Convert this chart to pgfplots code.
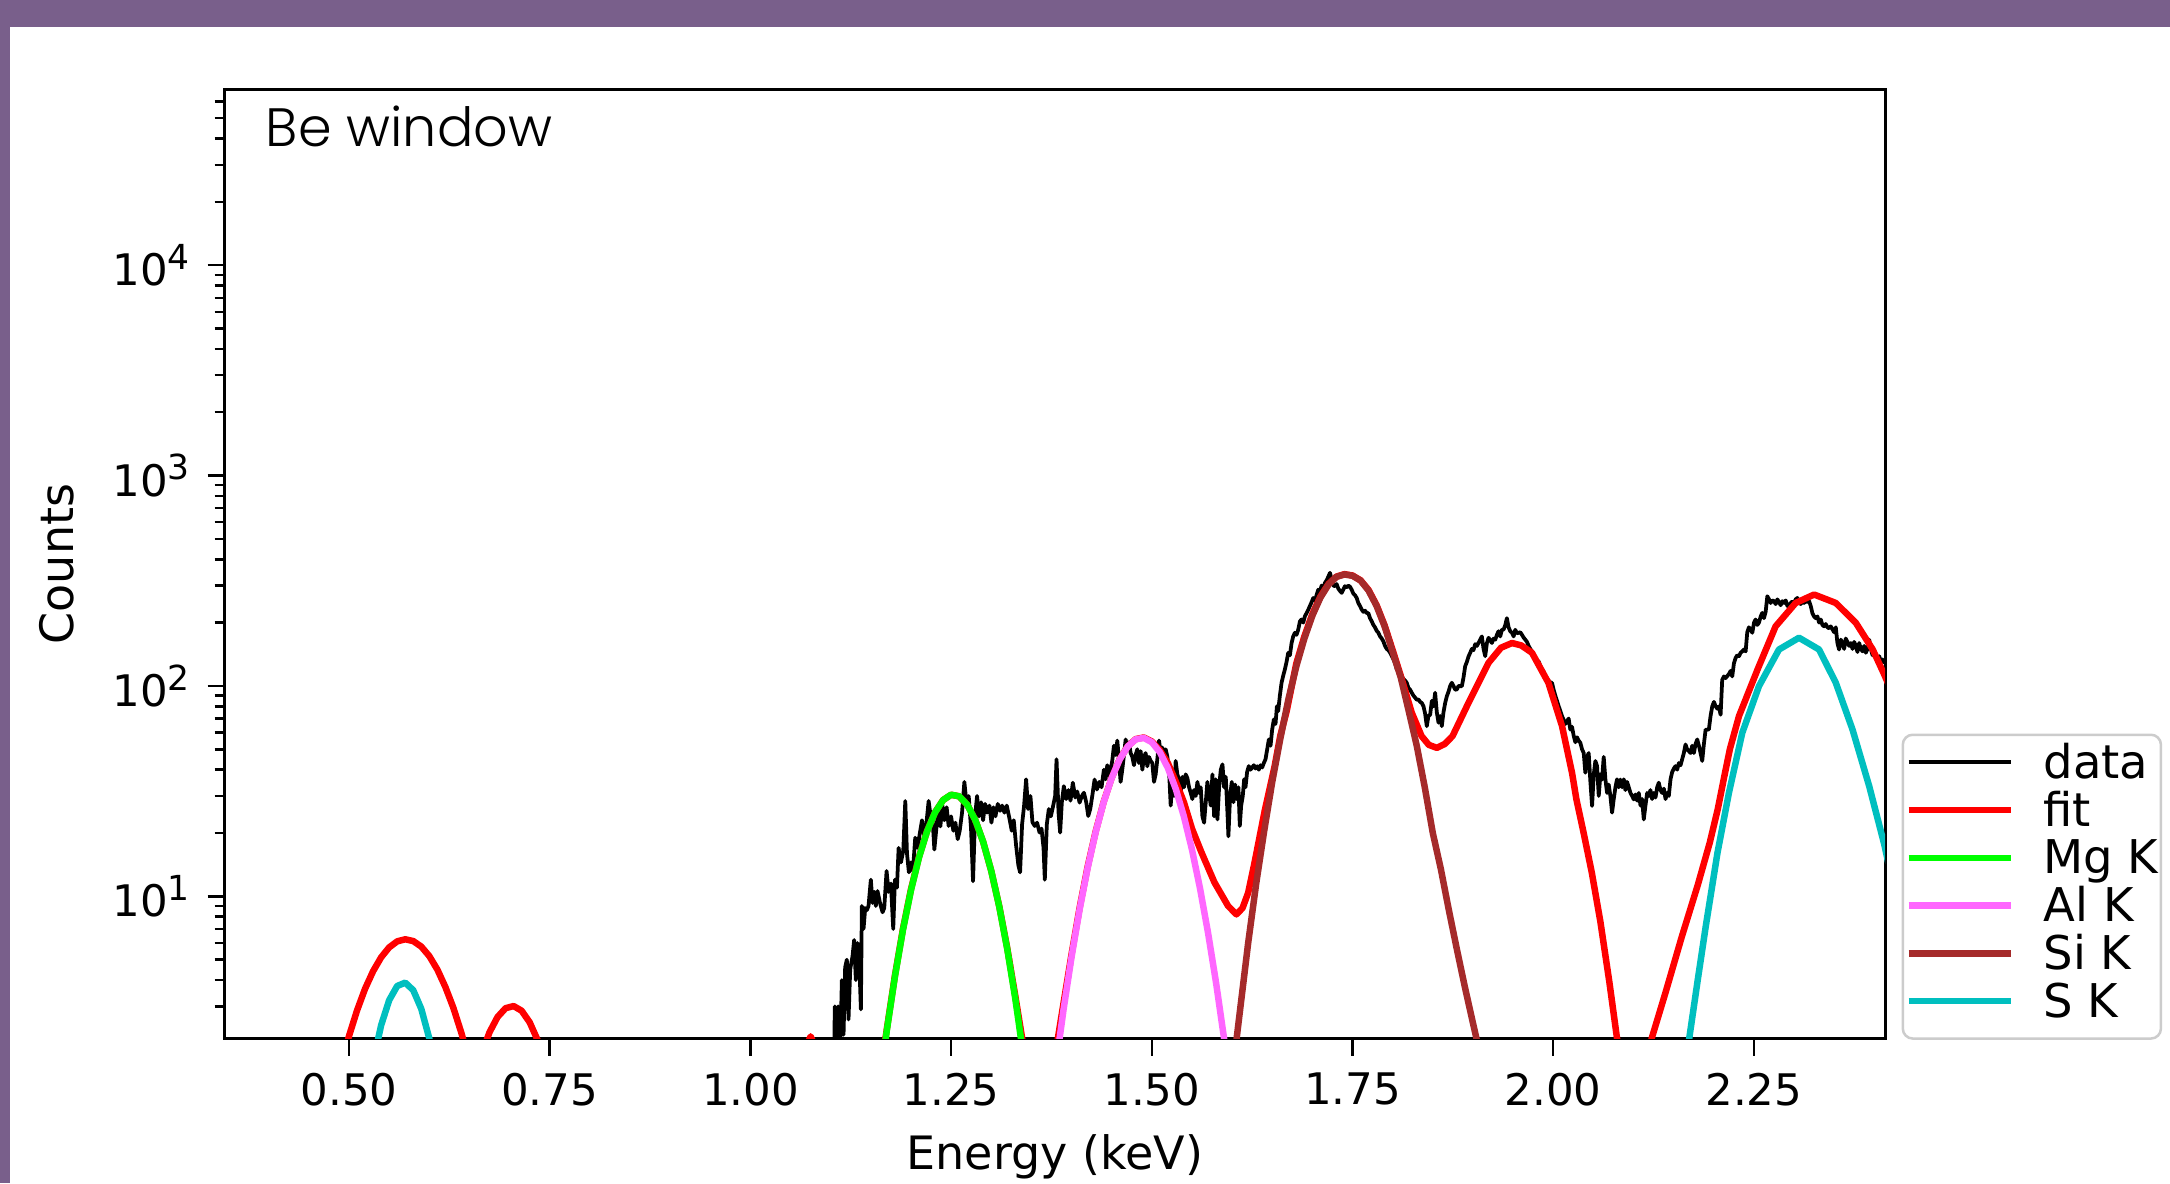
\documentclass[border=0pt]{standalone}
\usepackage{pgfplots}
\pgfplotsset{compat=1.18}
\usepackage{fontspec}
\setmainfont{DejaVu Sans}
\newfontfamily\titlefont{Poppins Light}
\definecolor{bgpurple}{RGB}{121,95,139}
\definecolor{mgk}{RGB}{0,255,0}
\definecolor{alk}{RGB}{255,102,255}
\definecolor{sik}{RGB}{165,42,42}
\definecolor{sk}{RGB}{0,191,191}
\newcommand{\tsup}[1]{\raisebox{3.3pt}{\fontsize{6.9}{7}\selectfont #1}}
\begin{document}
\begin{tikzpicture}[x=1pt,y=1pt]
\useasboundingbox (0,0) rectangle (434,236.6);
\fill[bgpurple] (0,0) rectangle (434,236.6);
\fill[white] (2,0) rectangle (434,231.2);
\begin{axis}[
  at={(44.92pt,28.9pt)}, anchor=south west,
  scale only axis, width=332.1pt, height=189.8pt,
  ymode=log, xmin=0.345, xmax=2.4134, ymin=2.11, ymax=68400,
  axis line style={line width=0.6pt},
  tick pos=left, tick align=outside,
  major tick length=3.4pt, minor tick length=2pt,
  every tick/.style={black, line width=0.5pt},
  xtick={0.5,0.75,1,1.25,1.5,1.75,2,2.25},
  xticklabels={0.50,0.75,1.00,1.25,1.50,1.75,2.00,2.25},
  ytick={10,100,1000,10000},
  yticklabels={10\tsup{1},10\tsup{2},10\tsup{3},10\tsup{4}},
  minor ytick={3,4,5,6,7,8,9,20,30,40,50,60,70,80,90,200,300,400,500,600,700,800,900,2000,3000,4000,5000,6000,7000,8000,9000,20000,30000,40000,50000,60000},
  ticklabel style={font=\fontsize{8.7}{10}\selectfont},
  xlabel={Energy (keV)},
  xlabel style={at={(axis description cs:0.5,-0.125)}, anchor=center, font=\fontsize{9.2}{11}\selectfont},
  ylabel={Counts},
  ylabel style={at={(axis description cs:-0.1009,0.5)}, anchor=center, font=\fontsize{9.2}{11}\selectfont},
  legend cell align=left,
  legend style={at={(axis description cs:1.0099,0.3214)}, anchor=north west,
    draw=black!20, line width=0.5pt, rounded corners=2pt, fill=white,
    inner xsep=0.5pt, inner ysep=1.7pt, row sep=0pt,
    font=\fontsize{9.3}{9.3}\selectfont,
    nodes={inner sep=0pt, text height=7pt, text depth=2.56pt}},
  legend image code/.code={\path[draw=none,fill=none] (0pt,0pt) rectangle (27pt,1pt); \draw[#1] (0pt,1pt) -- (20.4pt,1pt);},
]
\addplot[black, line width=0.75pt, line join=round] coordinates {
(1.100,1.0)(1.1035,1.0)(1.1051,3.0)(1.1076,1.5)(1.1093,3.0)(1.1118,1.8)(1.1139,4.0)(1.1160,2.2)(1.1180,4.6)(1.1201,5.0)(1.1222,2.6)(1.1243,4.5)(1.1272,5.2)(1.1292,6.2)(1.1313,4.0)(1.1334,6.0)(1.1355,5.0)(1.1376,2.9)(1.1388,9.0)(1.1409,7.0)(1.1430,8.8)(1.1450,8.6)(1.1471,9.0)(1.1500,12.0)(1.1521,9.3)(1.1542,10.5)(1.1562,9.0)(1.1583,10.6)(1.1617,9.2)(1.1646,8.4)(1.1667,8.8)(1.1696,13.2)(1.1721,10.5)(1.1750,11.5)(1.1779,7.0)(1.1800,12.0)(1.1825,11.0)(1.1846,17.0)(1.1875,14.5)(1.1904,16.5)(1.1929,28.4)(1.1950,16.0)(1.1974,13.0)(1.2000,14.5)(1.2024,13.2)(1.2053,19.0)(1.2083,17.0)(1.2108,19.7)(1.2137,23.0)(1.2162,19.7)(1.2191,22.0)(1.2220,28.4)(1.2245,24.0)(1.2270,23.0)(1.2291,16.7)(1.2316,21.0)(1.2341,26.0)(1.2366,21.5)(1.2391,27.0)(1.2415,23.0)(1.2444,26.5)(1.2469,21.6)(1.2499,24.0)(1.2528,20.5)(1.2553,22.4)(1.2582,18.7)(1.2607,20.5)(1.2636,25.0)(1.2665,35.0)(1.2694,27.0)(1.2719,30.0)(1.2748,21.0)(1.2773,11.8)(1.2798,24.0)(1.2823,30.0)(1.2848,24.0)(1.2873,28.0)(1.2898,23.0)(1.2923,27.5)(1.2948,25.0)(1.2977,27.0)(1.3002,22.4)(1.3027,26.5)(1.3052,24.0)(1.3081,27.5)(1.3110,25.5)(1.3135,27.0)(1.3164,25.0)(1.3193,27.0)(1.3226,23.5)(1.3255,20.5)(1.3280,23.0)(1.3309,17.5)(1.3338,14.0)(1.3359,13.0)(1.3384,22.0)(1.3409,27.0)(1.3434,36.0)(1.3459,26.0)(1.3488,30.0)(1.3513,22.5)(1.3542,21.6)(1.3571,22.4)(1.3601,20.1)(1.3626,21.0)(1.3651,17.0)(1.3667,12.0)(1.3692,22.0)(1.3717,26.0)(1.3742,24.0)(1.3767,26.5)(1.3796,30.0)(1.3813,44.8)(1.3838,25.0)(1.3858,20.1)(1.3879,28.0)(1.3904,33.4)(1.3933,29.0)(1.3962,32.0)(1.3987,28.5)(1.4016,34.7)(1.4046,29.5)(1.4071,31.5)(1.4100,27.9)(1.4129,30.0)(1.4154,31.1)(1.4183,28.0)(1.4208,24.1)(1.4233,26.0)(1.4258,30.0)(1.4287,35.9)(1.4316,32.2)(1.4345,35.0)(1.4374,33.0)(1.4403,40.0)(1.4424,36.0)(1.4445,42.0)(1.4466,37.5)(1.4486,40.0)(1.4507,44.0)(1.4528,52.0)(1.4549,47.0)(1.4570,55.0)(1.4590,45.0)(1.4611,35.0)(1.4632,40.0)(1.4653,47.0)(1.4674,55.7)(1.4694,50.0)(1.4715,54.0)(1.4736,48.0)(1.4757,46.0)(1.4778,42.0)(1.4798,47.0)(1.4819,50.0)(1.4840,43.0)(1.4861,49.0)(1.4882,40.0)(1.4902,46.0)(1.4923,48.0)(1.4944,41.5)(1.4965,46.0)(1.4986,44.0)(1.5006,43.0)(1.5027,35.0)(1.5048,38.0)(1.5069,45.0)(1.5090,55.0)(1.5110,48.0)(1.5131,51.0)(1.5152,44.0)(1.5173,50.0)(1.5194,46.0)(1.5214,40.0)(1.5235,27.0)(1.5256,35.0)(1.5277,30.0)(1.5297,44.0)(1.5318,38.0)(1.5339,36.0)(1.5360,31.0)(1.5381,37.0)(1.5401,33.0)(1.5422,38.0)(1.5443,36.5)(1.5464,33.0)(1.5485,31.0)(1.5505,29.0)(1.5526,32.0)(1.5547,30.0)(1.5568,35.0)(1.5589,31.0)(1.5609,33.0)(1.5630,24.0)(1.5651,22.4)(1.5672,28.0)(1.5692,35.0)(1.5713,31.0)(1.5734,27.0)(1.5755,38.0)(1.5776,24.0)(1.5797,36.0)(1.5817,23.2)(1.5838,33.0)(1.5859,40.0)(1.5880,42.4)(1.5900,33.0)(1.5921,37.0)(1.5942,25.0)(1.5954,19.3)(1.5975,30.0)(1.5996,35.0)(1.6017,28.0)(1.6038,34.0)(1.6058,29.0)(1.6079,33.0)(1.6096,21.6)(1.6113,27.0)(1.6133,30.0)(1.6150,36.0)(1.6167,33.0)(1.6187,39.0)(1.6208,41.6)(1.6229,40.0)(1.6250,41.0)(1.6271,42.0)(1.6291,40.5)(1.6312,41.5)(1.6333,40.0)(1.6354,42.0)(1.6375,41.0)(1.6395,43.0)(1.6416,44.8)(1.6437,50.0)(1.6458,55.7)(1.6479,52.0)(1.6499,62.0)(1.6520,69.3)(1.6541,66.0)(1.6558,80.0)(1.6574,76.0)(1.6595,90.0)(1.6616,103.5)(1.6637,112)(1.6657,119.7)(1.6678,130)(1.6699,143.8)(1.6720,140)(1.6741,160)(1.6761,172)(1.6782,178.9)(1.6803,175)(1.6824,185.5)(1.6845,203)(1.6865,207)(1.6886,200)(1.6907,214.6)(1.6928,222)(1.6948,230)(1.6969,240)(1.6990,250)(1.7011,262)(1.7032,255)(1.7052,270)(1.7073,287)(1.7094,280)(1.7115,300)(1.7136,292)(1.7157,309)(1.7177,318)(1.7198,330)(1.7219,345)(1.7240,320)(1.7261,300)(1.7281,298)(1.7302,305)(1.7323,290)(1.7344,283)(1.7365,277)(1.7386,288)(1.7406,298)(1.7427,294)(1.7448,300)(1.7469,296)(1.7489,287)(1.7510,275)(1.7531,270)(1.7552,262)(1.7572,248)(1.7593,240)(1.7614,231)(1.7635,225)(1.7656,228)(1.7676,222)(1.7697,222)(1.7718,210)(1.7739,203)(1.7760,195)(1.7780,190)(1.7801,183)(1.7822,179)(1.7843,172)(1.7864,168)(1.7884,163)(1.7905,155)(1.7926,150)(1.7947,148)(1.7968,144)(1.7988,139)(1.8009,134)(1.8030,128)(1.8051,120)(1.8071,117)(1.8092,115)(1.8113,111)(1.8134,108)(1.8155,106)(1.8176,103.5)(1.8196,98)(1.8217,96)(1.8238,92.8)(1.8259,90)(1.8280,88)(1.8300,86)(1.8321,86.3)(1.8342,84)(1.8363,83)(1.8384,80)(1.8404,74)(1.8425,64.4)(1.8446,72)(1.8467,73)(1.8488,85)(1.8509,80)(1.8529,92.8)(1.8550,75)(1.8571,66.9)(1.8592,72)(1.8612,64.4)(1.8633,75)(1.8654,83)(1.8675,89.4)(1.8696,94)(1.8716,100)(1.8737,103.5)(1.8758,100)(1.8779,96)(1.8799,96.2)(1.8820,100)(1.8841,99.8)(1.8862,99.8)(1.8883,110)(1.8903,124)(1.8924,130)(1.8945,138)(1.8966,143.8)(1.8986,150)(1.9007,148)(1.9028,158)(1.9049,155)(1.9070,160.4)(1.9091,166)(1.9111,172)(1.9132,150)(1.9153,138.5)(1.9174,160)(1.9195,169.4)(1.9215,165)(1.9236,160)(1.9257,168)(1.9278,166)(1.9298,175)(1.9319,182)(1.9340,172)(1.9361,185)(1.9382,185.5)(1.9403,195)(1.9423,210)(1.9444,190)(1.9465,182)(1.9486,179)(1.9507,172)(1.9527,185)(1.9548,178)(1.9569,179)(1.9590,180)(1.9611,175)(1.9631,170)(1.9652,166)(1.9673,162)(1.9694,155)(1.9715,150)(1.9735,146)(1.9756,138)(1.9777,134)(1.9798,128)(1.9819,131)(1.9839,124)(1.9860,120)(1.9881,117)(1.9901,111)(1.9922,108)(1.9943,106)(1.9964,104)(1.9985,103.5)(2.0005,96)(2.0026,90)(2.0047,85)(2.0068,80)(2.0089,76)(2.0109,72)(2.0130,69)(2.0151,66)(2.0172,68)(2.0192,70)(2.0213,62)(2.0234,64)(2.0255,58)(2.0276,54)(2.0297,57)(2.0317,55)(2.0338,53.7)(2.0359,50)(2.0380,48)(2.0400,38.7)(2.0421,46)(2.0442,48)(2.0463,35)(2.0484,26.9)(2.0505,38)(2.0525,44)(2.0546,41.6)(2.0567,30)(2.0588,38)(2.0608,35.9)(2.0629,46)(2.0650,36)(2.0671,31)(2.0691,34)(2.0712,30)(2.0733,25)(2.0754,29)(2.0775,33)(2.0795,36)(2.0816,33)(2.0837,35.9)(2.0858,33)(2.0879,36)(2.0899,32)(2.0920,35)(2.0941,33)(2.0962,31)(2.0983,30)(2.1003,28.9)(2.1024,30.5)(2.1045,28.5)(2.1066,31)(2.1087,27)(2.1107,29)(2.1128,23.2)(2.1149,27)(2.1170,31)(2.1190,30)(2.1211,32)(2.1232,29)(2.1253,31)(2.1274,29.5)(2.1295,33)(2.1315,34.7)(2.1336,32)(2.1357,31)(2.1378,32.5)(2.1399,29)(2.1419,31)(2.1440,30)(2.1461,36)(2.1482,39)(2.1503,40.5)(2.1523,41.6)(2.1544,40)(2.1565,43)(2.1586,42)(2.1606,44.8)(2.1627,48)(2.1648,52.7)(2.1669,50)(2.1690,49)(2.1711,48)(2.1731,52)(2.1752,48)(2.1773,53)(2.1794,55.7)(2.1815,52)(2.1835,48)(2.1856,44)(2.1877,53)(2.1898,62)(2.1919,62)(2.1939,62.1)(2.1960,72)(2.1981,80)(2.2002,84)(2.2022,80.2)(2.2043,78)(2.2064,80)(2.2085,73)(2.2105,107)(2.2126,111)(2.2147,109)(2.2168,111.4)(2.2189,114)(2.2210,118)(2.2230,111)(2.2251,128)(2.2272,136)(2.2293,140)(2.2314,138.5)(2.2334,143.8)(2.2355,146)(2.2376,149)(2.2397,146)(2.2417,180)(2.2438,190)(2.2459,185)(2.2480,179)(2.2501,200)(2.2521,207)(2.2542,195)(2.2563,200)(2.2584,214)(2.2604,222.6)(2.2625,210)(2.2646,225)(2.2667,267)(2.2688,258)(2.2709,248)(2.2729,255)(2.2750,253)(2.2771,245)(2.2792,258)(2.2813,250)(2.2833,242)(2.2854,253)(2.2875,248)(2.2896,255)(2.2917,240)(2.2937,239)(2.2958,248)(2.2979,252)(2.3000,247)(2.3020,258)(2.3041,262)(2.3062,250)(2.3083,245)(2.3104,253)(2.3124,248)(2.3145,255)(2.3166,250)(2.3187,253)(2.3208,240)(2.3228,222)(2.3249,214)(2.3270,210)(2.3291,214)(2.3312,200)(2.3333,207)(2.3353,195)(2.3374,192)(2.3395,197)(2.3416,190)(2.3437,188)(2.3457,192)(2.3478,186)(2.3499,180)(2.3520,190)(2.3540,160)(2.3561,149)(2.3582,166)(2.3603,160)(2.3624,150)(2.3644,168)(2.3665,162)(2.3686,155)(2.3707,160)(2.3728,150)(2.3749,162)(2.3769,155)(2.3790,145)(2.3811,160)(2.3832,150)(2.3853,146)(2.3873,155)(2.3894,143.8)(2.3915,150)(2.3936,166)(2.3957,150)(2.3977,140)(2.3998,143.8)(2.4019,137)(2.4040,134)(2.4061,138.5)(2.4081,131)(2.4102,133.6)(2.4123,128.8)(2.4144,130)
};
\addlegendentry{data}
\addplot[red, line width=1.3pt, line join=round] coordinates {
(0.47,0.8)(0.48,1.1)(0.49,1.58)(0.50,2.17)(0.51,2.87)(0.52,3.64)(0.53,4.41)(0.54,5.13)(0.55,5.72)(0.56,6.11)(0.57,6.25)(0.58,6.13)(0.59,5.77)(0.60,5.20)(0.61,4.49)(0.62,3.71)(0.63,2.95)(0.64,2.24)(0.65,1.63)(0.656,1.35)(0.665,1.78)(0.675,2.26)(0.685,2.67)(0.695,2.94)(0.705,3.01)(0.715,2.86)(0.725,2.52)(0.735,2.07)(0.745,1.58)(0.76,1.0)(1.05,1.0)(1.063,1.7)(1.075,2.16)(1.087,1.7)(1.10,1.0)(1.15,0.8)(1.16,1.3)(1.17,2.35)(1.18,4.2)(1.19,7.0)(1.20,10.8)(1.21,15.4)(1.22,20.4)(1.23,25.1)(1.24,28.7)(1.25,30.4)(1.26,29.9)(1.27,27.3)(1.28,23.1)(1.29,18.1)(1.30,13.2)(1.31,8.95)(1.32,5.65)(1.33,3.35)(1.34,1.95)(1.35,1.3)(1.36,1.1)(1.37,1.2)(1.38,1.8)(1.39,3.1)(1.40,5.3)(1.41,8.8)(1.42,13.8)(1.43,20.3)(1.44,28.1)(1.45,36.6)(1.46,44.9)(1.47,51.7)(1.48,55.9)(1.49,56.9)(1.50,54.5)(1.51,49.5)(1.52,43.0)(1.53,35.0)(1.54,28.0)(1.55,21.0)(1.5618,16.2)(1.578,11.65)(1.595,9.0)(1.6054,8.21)(1.613,8.8)(1.620,10.4)(1.628,14.5)(1.6406,25.5)(1.653,41.6)(1.66,58)(1.668,76)(1.68,128)(1.69,172)(1.70,220)(1.71,266)(1.72,305)(1.73,331)(1.74,340)(1.75,335)(1.76,318)(1.77,286)(1.78,242)(1.79,194)(1.80,148)(1.81,112)(1.8238,74.6)(1.836,57.8)(1.845,52.5)(1.855,50.8)(1.865,53)(1.8746,57.8)(1.8945,83.2)(1.9195,128.9)(1.935,152)(1.9486,160)(1.96,156)(1.9735,143.9)(1.994,103.5)(2.011,64.4)(2.0234,38.7)(2.0289,28.9)(2.0378,20.1)(2.048,13)(2.0587,7.6)(2.07,3.9)(2.0795,2.11)(2.09,1.2)(2.10,0.9)(2.11,1.1)(2.1226,2.11)(2.14,3.5)(2.16,6.4)(2.18,11.3)(2.195,18)(2.205,26)(2.213,37)(2.22,50)(2.2314,71.9)(2.2545,119.7)(2.277,192)(2.302,248)(2.325,272)(2.352,248)(2.377,199.5)(2.398,149)(2.4123,113.4)(2.42,97)
};
\addlegendentry{fit}
\addplot[mgk, line width=1.3pt, line join=round] coordinates {
(1.15,0.5)(1.16,1.20)(1.17,2.32)(1.18,4.16)(1.19,6.93)(1.20,10.70)(1.21,15.32)(1.22,20.36)(1.23,25.08)(1.24,28.68)(1.25,30.41)(1.26,29.91)(1.27,27.29)(1.28,23.10)(1.29,18.13)(1.30,13.21)(1.31,8.92)(1.32,5.59)(1.33,3.25)(1.34,1.75)(1.35,0.88)(1.36,0.4)
};
\addlegendentry{Mg K}
\addplot[alk, line width=1.3pt, line join=round] coordinates {
(1.36,0.35)(1.37,0.75)(1.38,1.52)(1.39,2.89)(1.40,5.15)(1.41,8.64)(1.42,13.61)(1.43,20.14)(1.44,27.99)(1.45,36.52)(1.46,44.78)(1.47,51.56)(1.48,55.77)(1.49,56.65)(1.50,54.03)(1.51,48.44)(1.52,40.76)(1.53,32.23)(1.54,23.92)(1.55,16.69)(1.56,10.93)(1.57,6.72)(1.58,3.89)(1.59,2.11)(1.60,1.08)(1.61,0.5)
};
\addlegendentry{Al K}
\addplot[sik, line width=1.3pt, line join=round] coordinates {
(1.59,0.45)(1.60,1.4)(1.61,2.9)(1.62,6.0)(1.63,11.5)(1.64,20.5)(1.65,35)(1.66,56)(1.67,86)(1.68,124)(1.69,168)(1.70,216)(1.71,263)(1.72,303)(1.73,330)(1.74,339)(1.75,334)(1.76,317)(1.77,284)(1.78,240)(1.79,192)(1.80,145)(1.81,110)(1.82,76)(1.83,52)(1.84,33)(1.85,20)(1.86,13.5)(1.87,8.6)(1.88,5.6)(1.89,3.7)(1.90,2.5)(1.91,1.7)(1.92,1.1)(1.93,0.7)
};
\addlegendentry{Si K}
\addplot[sk, line width=1.3pt, line join=round] coordinates {
(0.52,0.9)(0.53,1.64)(0.54,2.44)(0.55,3.21)(0.56,3.75)(0.57,3.89)(0.58,3.58)(0.59,2.92)(0.60,2.11)(0.61,1.35)(0.62,0.8)(2.15,0.8)(2.16,1.2)(2.1694,2.11)(2.18,4.0)(2.19,7.2)(2.2046,16.1)(2.2189,31.1)(2.2355,59.9)(2.2563,99.8)(2.2812,149)(2.3062,169.5)(2.3312,149)(2.352,103.5)(2.3728,62.1)(2.3936,33.4)(2.4123,17.7)(2.42,13)
};
\addlegendentry{S K}
\node[anchor=base west, inner sep=0pt, font=\titlefont\fontsize{10.8}{12}\selectfont] at (rel axis cs:0.0243,0.9395) {Be window};
\end{axis}
\end{tikzpicture}
\end{document}
